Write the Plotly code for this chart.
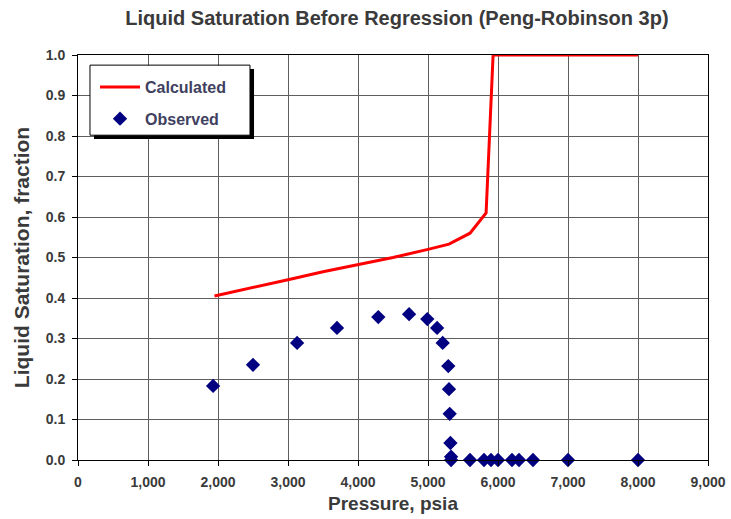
import plotly.graph_objects as go

# Calculated (Peng-Robinson 3p, before regression)
calc_p = [1950, 2500, 3000, 3500, 4000, 4500, 5000, 5300, 5600, 5830, 5930, 8000]
calc_s = [0.405, 0.425, 0.445, 0.465, 0.482, 0.500, 0.520, 0.533, 0.560, 0.610, 1.0, 1.0]

# Observed
obs_p = [1930, 2500, 3130, 3700, 4290, 4730, 4990, 5130, 5210, 5290, 5300, 5310, 5320, 5330, 5330,
         5600, 5800, 5900, 6000, 6200, 6300, 6500, 7000, 8000]
obs_s = [0.183, 0.235, 0.289, 0.326, 0.353, 0.360, 0.348, 0.326, 0.289, 0.232, 0.175, 0.114, 0.042, 0.008, 0.0,
         0.0, 0.0, 0.0, 0.0, 0.0, 0.0, 0.0, 0.0, 0.0]

x_ticks = [0, 1000, 2000, 3000, 4000, 5000, 6000, 7000, 8000, 9000]
y_ticks = [0.0, 0.1, 0.2, 0.3, 0.4, 0.5, 0.6, 0.7, 0.8, 0.9, 1.0]

FONT = "Liberation Sans, Arial, sans-serif"
TXT = "#3a3a3a"

fig = go.Figure()
fig.add_trace(go.Scatter(x=calc_p, y=calc_s, mode="lines", name="<b>Calculated</b>",
                         legendgroup="a",
                         line=dict(color="#ff0000", width=3)))
fig.add_trace(go.Scatter(x=obs_p, y=obs_s, mode="markers", name="<b>Observed</b>",
                         legendgroup="b",
                         marker=dict(symbol="diamond", color="#000080", size=11,
                                     line=dict(width=0)), cliponaxis=False))

fig.update_layout(
    width=731, height=519,
    margin=dict(l=78, r=23, t=55, b=59),
    paper_bgcolor="white", plot_bgcolor="white",
    title=dict(text="<b>Liquid Saturation Before Regression (Peng-Robinson 3p)</b>",
               x=0.543, xanchor="center", y=0.966, yanchor="middle",
               font=dict(family=FONT, size=20, color=TXT)),
    font=dict(family=FONT, color=TXT),
    showlegend=True,
    legend=dict(x=0.027, y=0.963, xanchor="left", yanchor="top",
                bgcolor="rgba(0,0,0,0)", borderwidth=0,
                font=dict(family=FONT, size=16, color="#404060"),
                itemwidth=40, tracegroupgap=8),
)
fig.update_xaxes(range=[0, 9000], tickvals=x_ticks, automargin=False,
                 ticktext=["<b>%s</b>" % f"{v:,}" for v in x_ticks],
                 showgrid=True, gridcolor="#5e5e5e", gridwidth=1,
                 showline=True, linecolor="black", linewidth=1, mirror=True,
                 ticks="outside", ticklen=5, tickcolor="black",
                 ticklabelstandoff=4,
                 tickfont=dict(family=FONT, size=14, color=TXT),
                 title=dict(text="<b>Pressure, psia</b>", font=dict(family=FONT, size=19, color=TXT),
                            standoff=7),
                 zeroline=False)
fig.update_yaxes(range=[0, 1.0], tickvals=y_ticks, automargin=False,
                 ticktext=["<b>%.1f</b>" % v for v in y_ticks],
                 showgrid=True, gridcolor="#5e5e5e", gridwidth=1,
                 showline=True, linecolor="black", linewidth=1, mirror=True,
                 ticks="outside", ticklen=5, tickcolor="black",
                 ticklabelstandoff=4,
                 tickfont=dict(family=FONT, size=14, color=TXT),
                 title=dict(text="<b>Liquid Saturation, fraction</b>", font=dict(family=FONT, size=21, color=TXT),
                            standoff=10),
                 zeroline=False)

# legend box with shadow
fig.add_shape(type="rect", xref="paper", yref="paper",
              x0=0.0254, x1=0.2794, y0=0.7926, y1=0.9654,
              fillcolor="black", line=dict(width=0), layer="above")
fig.add_shape(type="rect", xref="paper", yref="paper",
              x0=0.019, x1=0.273, y0=0.802, y1=0.975,
              fillcolor="white", line=dict(color="black", width=1), layer="above")

fig.write_html("out.html")
